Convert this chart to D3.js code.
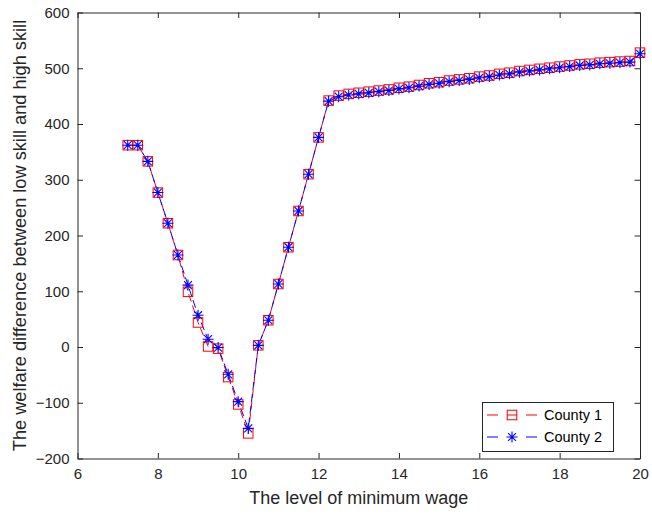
<!DOCTYPE html>
<html>
<head>
<meta charset="utf-8">
<script src="https://cdn.jsdelivr.net/npm/d3@7"></script>
<style>
  body { margin: 0; background: #fff; }
  svg { display: block; font-family: "Liberation Sans", Arial, sans-serif; }
</style>
</head>
<body>
<svg width="652" height="515"></svg>
<script>
// minimum wage levels
const wage = [7.25, 7.5, 7.75, 8, 8.25, 8.5, 8.75, 9, 9.25, 9.5, 9.75, 10, 10.25,
  10.5, 10.75, 11, 11.25, 11.5, 11.75, 12, 12.25, 12.5, 12.75, 13, 13.25, 13.5,
  13.75, 14, 14.25, 14.5, 14.75, 15, 15.25, 15.5, 15.75, 16, 16.25, 16.5, 16.75,
  17, 17.25, 17.5, 17.75, 18, 18.25, 18.5, 18.75, 19, 19.25, 19.5, 19.75, 20];

const county1 = [362, 362, 333, 277, 222, 165, 99, 44, 1, -3, -54, -103, -155,
  3, 48, 113, 179, 244, 310, 376, 442, 451, 454, 456, 458, 460,
  462, 465, 467, 470, 473, 475, 478, 480, 482, 485, 487, 490, 492,
  495, 497, 499, 501, 503, 505, 507, 508, 510, 511, 512, 513, 528];

const county2 = [362, 362, 333, 277, 222, 165, 111, 57, 14, -1, -49, -98, -146,
  3, 48, 113, 179, 244, 310, 376, 441, 449, 452, 454, 456, 458,
  460, 463, 465, 468, 471, 473, 476, 478, 480, 483, 485, 488, 490,
  493, 495, 497, 499, 501, 503, 505, 506, 508, 509, 510, 511, 526];

const xTicks = [6, 8, 10, 12, 14, 16, 18, 20];
const yTicks = [-200, -100, 0, 100, 200, 300, 400, 500, 600];
const seriesNames = ["County 1", "County 2"];

const svg = d3.select('svg');
const margin = {left: 77.5, right: 12, top: 12.5, bottom: 56.5};
const width = +svg.attr('width');
const height = +svg.attr('height');
const x0 = margin.left, x1 = width - margin.right;
const y0 = height - margin.bottom, y1 = margin.top;
const axisColor = '#262626';
const tickLen = 5.5;

const x = d3.scaleLinear().domain([6, 20]).range([x0, x1]);
const y = d3.scaleLinear().domain([-200, 600]).range([y0, y1]);

// axes (ticks pointing inward, on all four sides)
const axBottom = svg.append('g').attr('transform', `translate(0,${y0})`)
  .call(d3.axisBottom(x).tickValues(xTicks).tickSizeInner(-tickLen).tickSizeOuter(0).tickPadding(10));
const axTop = svg.append('g').attr('transform', `translate(0,${y1})`)
  .call(d3.axisTop(x).tickValues(xTicks).tickSizeInner(-tickLen).tickSizeOuter(0).tickFormat(''));
const axLeft = svg.append('g').attr('transform', `translate(${x0},0)`)
  .call(d3.axisLeft(y).tickValues(yTicks).tickSizeInner(-tickLen).tickSizeOuter(0).tickPadding(8));
const axRight = svg.append('g').attr('transform', `translate(${x1},0)`)
  .call(d3.axisRight(y).tickValues(yTicks).tickSizeInner(-tickLen).tickSizeOuter(0).tickFormat(''));

[axBottom, axTop, axLeft, axRight].forEach(g => {
  g.selectAll('path').attr('stroke', axisColor).attr('stroke-width', 1);
  g.selectAll('line').attr('stroke', axisColor).attr('stroke-width', 1);
  g.selectAll('text').attr('fill', axisColor).style('font-size', '15px')
    .style('font-family', '"Liberation Sans", Arial, sans-serif');
});

// axis labels
svg.append('text')
  .attr('x', (x0 + x1) / 2).attr('y', 504)
  .attr('text-anchor', 'middle').attr('fill', axisColor)
  .style('font-size', '18px')
  .text('The level of minimum wage');

svg.append('text')
  .attr('transform', `translate(26,${(y0 + y1) / 2}) rotate(-90)`)
  .attr('text-anchor', 'middle').attr('fill', axisColor)
  .style('font-size', '18.2px')
  .text('The welfare difference between low skill and high skill');

// series
const line = d3.line().x(d => x(d[0])).y(d => y(d[1]));
const data1 = wage.map((w, i) => [w, county1[i]]);
const data2 = wage.map((w, i) => [w, county2[i]]);

svg.append('path').datum(data1)
  .attr('d', line).attr('fill', 'none')
  .attr('stroke', '#ff0000').attr('stroke-width', 1)
  .attr('stroke-dasharray', '8,4');

svg.append('path').datum(data2)
  .attr('d', line).attr('fill', 'none')
  .attr('stroke', '#0000ff').attr('stroke-width', 1)
  .attr('stroke-dasharray', '8,4').attr('stroke-dashoffset', 5);

const sq = 9.5;
function square(g, cx, cy) {
  g.append('rect')
    .attr('x', cx - sq / 2).attr('y', cy - sq / 2)
    .attr('width', sq).attr('height', sq)
    .attr('fill', 'none').attr('stroke', '#ff0000').attr('stroke-width', 1);
}
function star(g, cx, cy) {
  const r = 5.5, d = r * 0.72;
  const p = `M${cx - r},${cy}H${cx + r}M${cx},${cy - r}V${cy + r}` +
    `M${cx - d},${cy - d}L${cx + d},${cy + d}M${cx - d},${cy + d}L${cx + d},${cy - d}`;
  g.append('path').attr('d', p).attr('stroke', '#0000ff').attr('stroke-width', 1.1).attr('fill', 'none');
}

const m1 = svg.append('g');
data1.forEach(d => square(m1, x(d[0]), y(d[1])));
const m2 = svg.append('g');
data2.forEach(d => star(m2, x(d[0]), y(d[1])));

// legend
const lg = svg.append('g');
lg.append('rect').attr('x', 482.5).attr('y', 402.5).attr('width', 131).attr('height', 49)
  .attr('fill', '#fff').attr('stroke', axisColor).attr('stroke-width', 1);
seriesNames.forEach((name, i) => {
  const ly = 415 + i * 22;
  const color = i === 0 ? '#ff0000' : '#0000ff';
  lg.append('line').attr('x1', 487).attr('x2', 498).attr('y1', ly).attr('y2', ly)
    .attr('stroke', color).attr('stroke-width', 1);
  lg.append('line').attr('x1', 526).attr('x2', 537).attr('y1', ly).attr('y2', ly)
    .attr('stroke', color).attr('stroke-width', 1);
  if (i === 0) {
    square(lg, 512, ly);
    lg.append('line').attr('x1', 507).attr('x2', 517).attr('y1', ly).attr('y2', ly)
      .attr('stroke', color).attr('stroke-width', 1);
  } else {
    star(lg, 512, ly);
  }
  lg.append('text').attr('x', 544).attr('y', ly + 5)
    .attr('fill', '#000').style('font-size', '14.5px').text(name);
});
</script>
</body>
</html>
